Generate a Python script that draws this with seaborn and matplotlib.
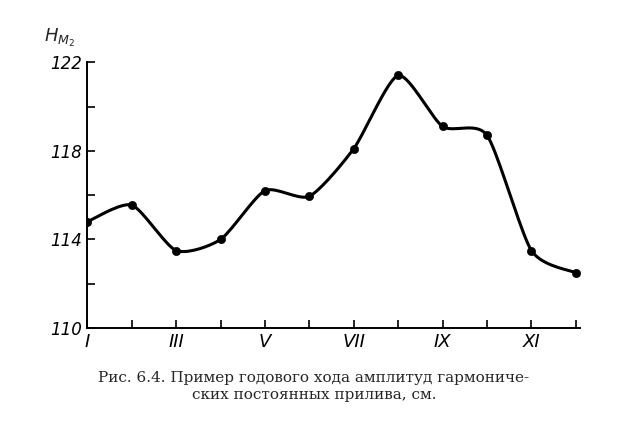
import matplotlib
matplotlib.use("Agg")
import matplotlib.pyplot as plt
import seaborn as sns
import numpy as np

months = [1, 2, 3, 4, 5, 6, 7, 8, 9, 10, 11, 12]
amplitude = [114.8, 115.55, 113.5, 114.0, 116.2, 115.95, 118.1, 121.4, 119.1, 118.7, 113.5, 112.5]
month_labels = ["I", "", "III", "", "V", "", "VII", "", "IX", "", "XI", ""]
y_major = [110, 114, 118, 122]
y_minor = [112, 116, 120]

sns.set_style("white")
plt.rcParams['font.family'] = ['DejaVu Serif']

fig = plt.figure(figsize=(6.28, 4.38), dpi=100)
ax = fig.add_axes([0.139, 0.251, 0.785, 0.607])

# smooth rendering curve (Catmull-Rom, reduced tension, through the data points)
x = np.array(months, float); y = np.array(amplitude, float)
xs, ys = [], []
P = np.vstack([x, y]).T
P = np.vstack([P[0], P, P[-1]])
k = 0.35
for i in range(1, len(P) - 2):
    t = np.linspace(0, 1, 20)[:, None]
    p0, p1, p2, p3 = P[i-1], P[i], P[i+1], P[i+2]
    m1 = k * (p2 - p0); m2 = k * (p3 - p1)
    h00 = 2*t**3 - 3*t**2 + 1; h10 = t**3 - 2*t**2 + t
    h01 = -2*t**3 + 3*t**2; h11 = t**3 - t**2
    c = h00*p1 + h10*m1 + h01*p2 + h11*m2
    xs.extend(c[:, 0]); ys.extend(c[:, 1])
sns.lineplot(x=xs, y=ys, ax=ax, color="black", linewidth=2.2, sort=False)
sns.scatterplot(x=months, y=amplitude, ax=ax, color="black", s=35, zorder=5, edgecolor="black")

ax.set_xlim(1, 12.1)
ax.set_ylim(110, 122)
ax.set_xticks(months)
ax.set_xticklabels(month_labels, fontstyle="italic", fontsize=13, family="DejaVu Sans")
ax.set_yticks(y_major)
ax.set_yticks(y_minor, minor=True)
ax.set_yticklabels([str(v) for v in y_major], fontstyle="italic", fontsize=12, family="DejaVu Sans")
ax.tick_params(axis="both", which="both", direction="in", length=6, width=1.2, colors="black", left=True, bottom=True)
for s in ["top", "right"]:
    ax.spines[s].set_visible(False)
for s in ["left", "bottom"]:
    ax.spines[s].set_linewidth(1.4)
    ax.spines[s].set_color("black")

fig.text(0.07, 0.905, r"$H_{M_2}$", fontsize=13, fontstyle="italic")
fig.text(0.5, 0.128, "Рис. 6.4. Пример годового хода амплитуд гармониче-", ha="center", fontsize=11)
fig.text(0.5, 0.09, "ских постоянных прилива, см.", ha="center", fontsize=11)

fig.savefig("out.png", dpi=100, facecolor="white")
